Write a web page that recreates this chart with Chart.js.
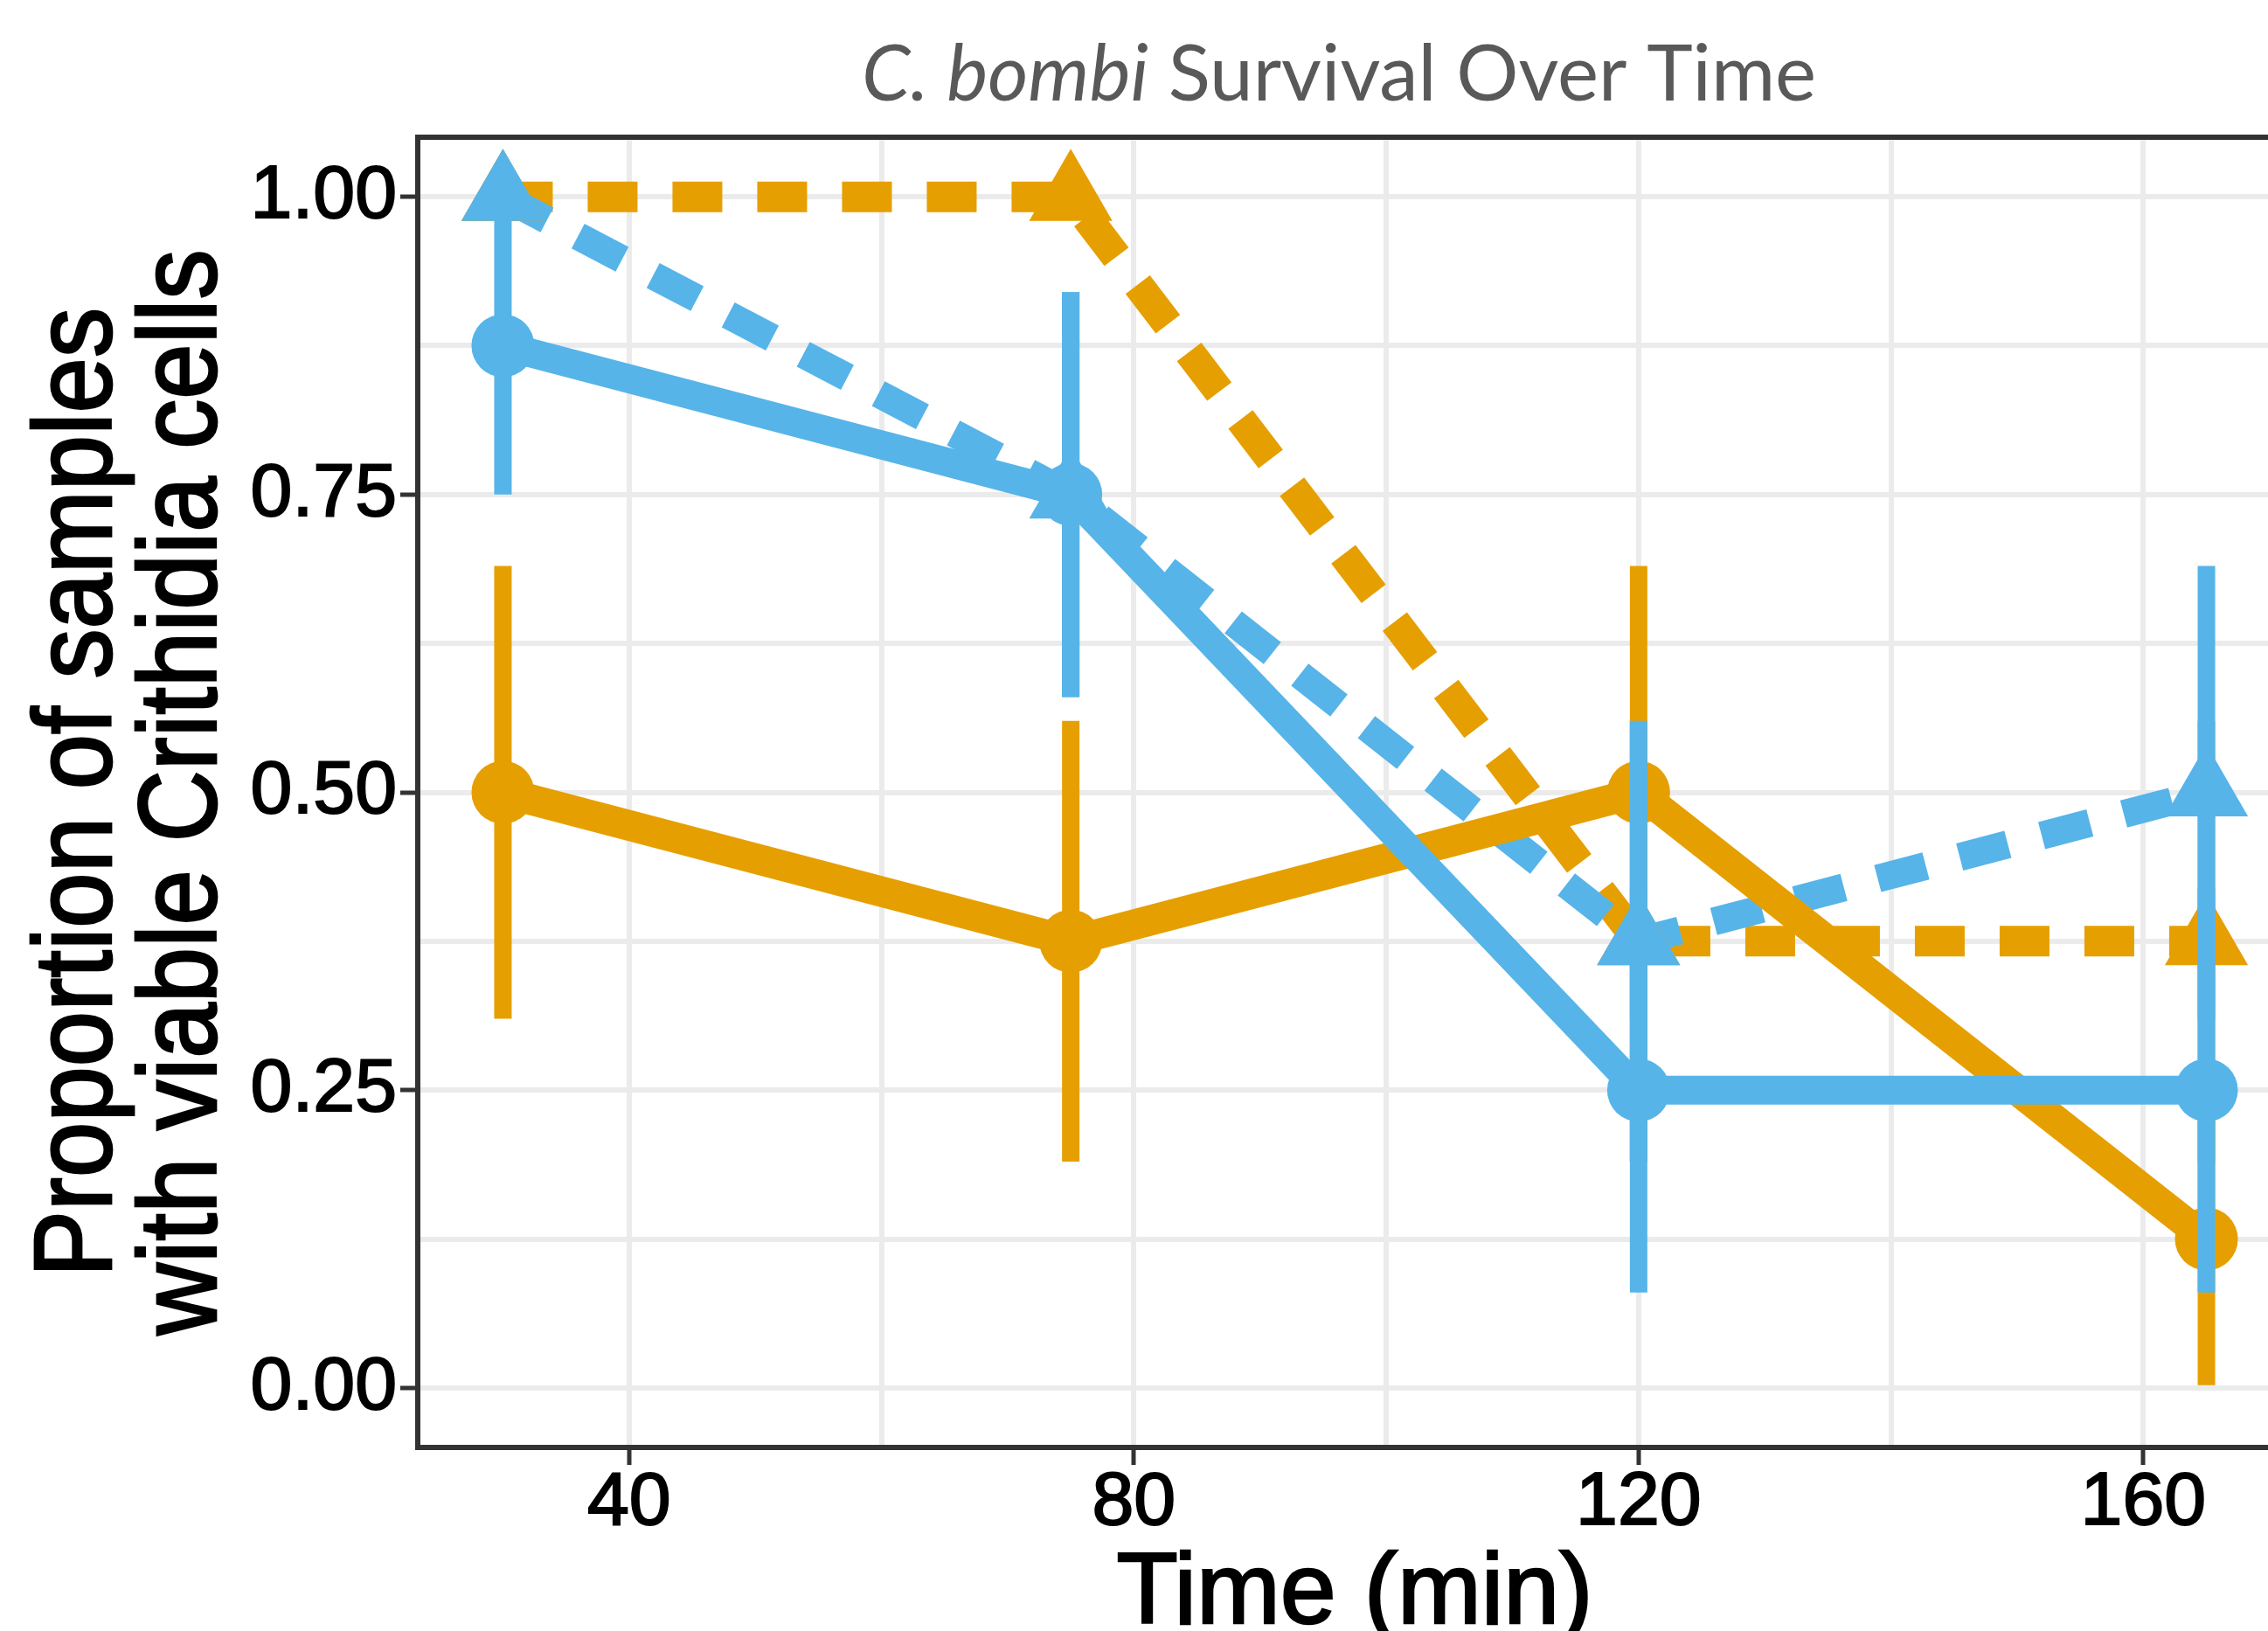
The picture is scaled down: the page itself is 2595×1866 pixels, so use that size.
<!DOCTYPE html>
<html>
<head>
<meta charset="utf-8">
<script src="https://cdn.jsdelivr.net/npm/chart.js@4"></script>
<style>
  html, body { margin: 0; padding: 0; background: #ffffff; overflow: hidden; }
  /* the original figure is cropped on the right, so the canvas is a bit wider than the window */
  #frame { width: 2595px; height: 1866px; overflow: hidden; }
</style>
</head>
<body>
<div id="frame"><canvas id="survival-chart" width="2640" height="1866"></canvas></div>
<script>
// sampling times (min)
const times = [30, 75, 120, 165];

// blue, solid line, circles
const blueSolid = [0.875, 0.75, 0.25, 0.25];
const blueSolidLow = [0.75, 0.58, 0.08, 0.08];
const blueSolidHigh = [1.0, 0.92, 0.42, 0.42];

// blue, dashed line, triangles
const blueDashed = [1.0, 0.75, 0.375, 0.5];
const blueDashedLow = [1.0, 0.58, 0.19, 0.31];
const blueDashedHigh = [1.0, 0.92, 0.56, 0.69];

// orange, solid line, circles
const orangeSolid = [0.5, 0.375, 0.5, 0.125];
const orangeSolidLow = [0.31, 0.19, 0.31, 0.0];
const orangeSolidHigh = [0.69, 0.56, 0.69, 0.25];

// orange, dashed line, triangles
const orangeDashed = [1.0, 1.0, 0.375, 0.375];
const orangeDashedLow = [1.0, 1.0, 0.19, 0.19];
const orangeDashedHigh = [1.0, 1.0, 0.56, 0.56];

// axes
const xGrid = [40, 60, 80, 100, 120, 140, 160];
const xMajor = [40, 80, 120, 160];
const yGrid = [0, 0.125, 0.25, 0.375, 0.5, 0.625, 0.75, 0.875, 1.0];
const yMajor = [0, 0.25, 0.5, 0.75, 1.0];
const yTickLabels = ['0.00', '0.25', '0.50', '0.75', '1.00'];

const titleItalic = 'C. bombi';
const titleRest = ' Survival Over Time';
const xTitle = 'Time (min)';
const yTitleLines = ['Proportion of samples', 'with viable Crithidia cells'];

const BLUE = '#56B4E9';
const ORANGE = '#E69F00';

function points(ys) {
  return times.map((t, i) => ({ x: t, y: ys[i] }));
}
function ranges(lo, hi) {
  return times.map((t, i) => ({ x: t, y: [lo[i], hi[i]] }));
}

function markers(ys, color, style, radius) {
  return {
    type: 'line',
    data: points(ys),
    showLine: false,
    pointStyle: style,
    pointRadius: radius,
    pointBackgroundColor: color,
    pointBorderWidth: 0,
  };
}
function errorBars(lo, hi, color) {
  return {
    type: 'bar',
    data: ranges(lo, hi),
    backgroundColor: color,
    borderWidth: 0,
    grouped: false,
    maxBarThickness: 20,
  };
}
function path(ys, color, width, dashed) {
  return {
    type: 'line',
    data: points(ys),
    borderColor: color,
    borderWidth: width,
    borderDash: dashed ? [57, 40] : [],
    borderJoinStyle: 'round',
    borderCapStyle: 'butt',
    pointRadius: 0,
    tension: 0,
    fill: false,
  };
}

// black text with a thin outline so it has the weight of the original
function heavyText(ctx, text, x, y) {
  ctx.fillText(text, x, y);
  ctx.strokeText(text, x, y);
}

// draws the panel frame and the titles
const decorations = {
  id: 'decorations',
  afterDatasetsDraw(chart) {
    const { ctx, chartArea: a } = chart;
    ctx.save();
    ctx.strokeStyle = '#333333';
    ctx.lineWidth = 6;
    ctx.strokeRect(a.left, a.top, a.right - a.left, a.bottom - a.top);
    ctx.restore();
  },
  afterDraw(chart) {
    const { ctx, chartArea: a } = chart;
    ctx.save();

    // main title, partly italic
    ctx.fillStyle = '#595959';
    ctx.textBaseline = 'alphabetic';
    ctx.textAlign = 'left';
    const italicFont = 'italic 89px Lato';
    const plainFont = '89px Lato';
    ctx.font = italicFont;
    const w1 = ctx.measureText(titleItalic).width;
    ctx.font = plainFont;
    const w2 = ctx.measureText(titleRest).width;
    const x = 1532 - (w1 + w2) / 2;
    ctx.font = italicFont;
    ctx.fillText(titleItalic, x, 115);
    ctx.font = plainFont;
    ctx.fillText(titleRest, x + w1, 115);

    // x axis title
    ctx.fillStyle = '#000000';
    ctx.strokeStyle = '#000000';
    ctx.lineWidth = 2.5;
    ctx.textAlign = 'center';
    ctx.font = '115px "Liberation Sans"';
    heavyText(ctx, xTitle, (a.left + a.right) / 2, 1857);

    // y axis title, two lines
    const midY = (a.top + a.bottom) / 2;
    const baselines = [127, 247];
    ctx.font = '114px "Liberation Sans"';
    yTitleLines.forEach((line, i) => {
      ctx.save();
      ctx.translate(baselines[i], midY);
      ctx.rotate(-Math.PI / 2);
      ctx.scale(1, 1.11);
      heavyText(ctx, line, 0, 0);
      ctx.restore();
    });
    ctx.restore();
  },
};

const canvasContext = document.getElementById('survival-chart').getContext('2d');

new Chart(canvasContext, {
  type: 'line',
  data: {
    // first dataset is drawn on top
    datasets: [
      markers(blueSolid, BLUE, 'circle', 36),
      errorBars(blueSolidLow, blueSolidHigh, BLUE),
      markers(blueDashed, BLUE, 'triangle', 55),
      errorBars(blueDashedLow, blueDashedHigh, BLUE),
      markers(orangeSolid, ORANGE, 'circle', 36),
      errorBars(orangeSolidLow, orangeSolidHigh, ORANGE),
      markers(orangeDashed, ORANGE, 'triangle', 55),
      errorBars(orangeDashedLow, orangeDashedHigh, ORANGE),
      path(blueSolid, BLUE, 33, false),
      path(orangeSolid, ORANGE, 35, false),
      path(blueDashed, BLUE, 32, true),
      path(orangeDashed, ORANGE, 35, true),
    ],
  },
  options: {
    responsive: false,
    animation: false,
    devicePixelRatio: 1,
    layout: { autoPadding: false, padding: { top: 157, right: 18, bottom: 0, left: 0 } },
    plugins: {
      legend: { display: false },
      tooltip: { enabled: false },
      title: { display: false },
    },
    scales: {
      x: {
        type: 'linear',
        min: 23.25,
        max: 171.75,
        offset: false,
        afterBuildTicks: (scale) => {
          scale.ticks = xGrid.map((v) => ({ value: v }));
        },
        afterFit: (scale) => {
          scale.height = 210;
          scale.paddingLeft = 0;
          scale.paddingRight = 0;
        },
        border: { display: false },
        grid: {
          offset: false,
          color: '#EBEBEB',
          lineWidth: 6,
          tickLength: 20,
          tickWidth: 5,
          tickColor: (c) => (c.tick && xMajor.includes(c.tick.value) ? '#333333' : 'rgba(0,0,0,0)'),
        },
        ticks: {
          autoSkip: false,
          maxRotation: 0,
          padding: 1,
          color: '#000000',
          textStrokeColor: '#000000',
          textStrokeWidth: 2,
          font: { family: '"Liberation Sans"', size: 86, lineHeight: 1 },
          callback: (v) => (xMajor.includes(v) ? String(v) : ''),
        },
      },
      y: {
        type: 'linear',
        min: -0.05,
        max: 1.05,
        afterBuildTicks: (scale) => {
          scale.ticks = yGrid.map((v) => ({ value: v }));
        },
        afterFit: (scale) => {
          scale.width = 478;
          scale.paddingTop = 0;
          scale.paddingBottom = 0;
        },
        border: { display: false },
        grid: {
          color: '#EBEBEB',
          lineWidth: 6,
          tickLength: 20,
          tickWidth: 5,
          tickColor: (c) => (c.tick && yMajor.includes(c.tick.value) ? '#333333' : 'rgba(0,0,0,0)'),
        },
        ticks: {
          autoSkip: false,
          padding: 4,
          color: '#000000',
          textStrokeColor: '#000000',
          textStrokeWidth: 2,
          font: { family: '"Liberation Sans"', size: 86 },
          callback: (v) => {
            const i = yMajor.indexOf(v);
            return i >= 0 ? yTickLabels[i] : '';
          },
        },
      },
    },
  },
  plugins: [decorations],
});
</script>
</body>
</html>
